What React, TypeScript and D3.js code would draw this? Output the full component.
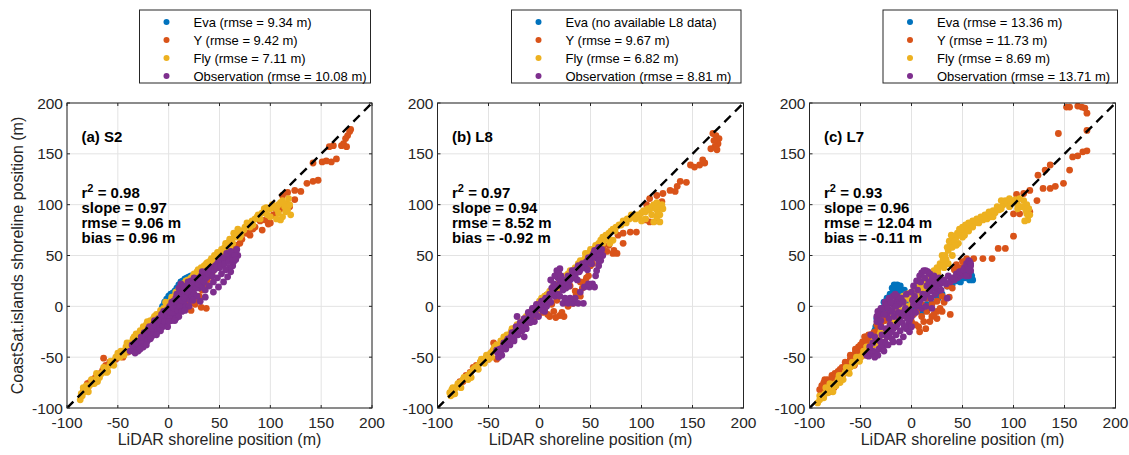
import React from "react";
import * as d3 from "d3";

// ---------- DATA ----------
const seriesNames = ["Eva", "Y", "Fly", "Observation"];
const seriesColors = ["#0072BD", "#D95319", "#EDB120", "#7E2F8E"];
const ticks = [-100, -50, 0, 50, 100, 150, 200];

const legendS2 = ["Eva (rmse = 9.34 m)", "Y (rmse = 9.42 m)", "Fly (rmse = 7.11 m)", "Observation (rmse = 10.08 m)"];
const legendL8 = ["Eva (no available L8 data)", "Y (rmse = 9.67 m)", "Fly (rmse = 6.82 m)", "Observation (rmse = 8.81 m)"];
const legendL7 = ["Eva (rmse = 13.36 m)", "Y (rmse = 11.73 m)", "Fly (rmse = 8.69 m)", "Observation (rmse = 13.71 m)"];

const titles = ["(a) S2", "(b) L8", "(c) L7"];
const statsS2 = ["0.98", "slope = 0.97", "rmse = 9.06 m", "bias = 0.96 m"];
const statsL8 = ["0.97", "slope = 0.94", "rmse = 8.52 m", "bias = -0.92 m"];
const statsL7 = ["0.93", "slope = 0.96", "rmse = 12.04 m", "bias = -0.11 m"];

type P = [number, number];

// Panel (a) S2
const evaS2: P[] = [[-6,0],[-4,4],[-2,7],[0,10],[1,6],[2,12],[4,13],[5,10],[6,15],[8,18],[10,21],[12,24],[14,25],[16,27],[18,28],[20,29],[22,30]];
const yS2: P[] = [[178,172],[176,168],[174,165],[179,174],[172,160],[175,157],[170,158],[162,158],[158,157],[165,145],[160,142],[155,143],[151,142],[142,141],[147,124],[142,123],[136,121],[130,113],[124,114],[117,112],[124,105],[119,98],[116,96],[112,109],[106,95],[100,82],[98,81],[92,75],[90,84],[85,78],[80,70],[75,72],[70,62],[64,58],[60,55],[55,50],[50,45],
  [45,40],[40,30],[35,22],[30,10],[25,6],[20,3],[15,0],[10,-2],[26,2],[32,-1],[37,-2],[22,-4],[5,-6],[0,-8],[-5,-12],[-10,-15],[-15,-18],[-20,-22],[-25,-30],[-30,-35],[-35,-40],[-40,-45],[-45,-50],[-50,-50],[-55,-55],[-60,-58],[-64,-51],[-65,-63],[-70,-68],[-75,-72],[-78,-75],[-82,-80],[-67,-66],
  [-84,-84],[-80,-76],[-76,-74],[-72,-70],[-62,-58],[-58,-55],[-52,-52],[-48,-47],[-42,-44],[-38,-40],[-32,-36],[-28,-33],[-22,-26],[-18,-20],[-12,-16],[-8,-14],[-2,-10],[3,-5],[8,-4],[14,-2],[18,2],[24,4],[28,8],[33,16],[38,26],[43,34],[48,40],[53,46],[58,52],[62,56],[67,60],[72,66],[78,72],[83,76],[95,85],[103,90],[110,96]];
const flyS2: P[] = [[-87,-92],[-85,-88],[-83,-84],[-80,-82],[-78,-78],[-75,-76],[-72,-72],[-70,-70],[-66,-66],[-62,-62],[-58,-58],[-55,-54],[-52,-50],[-48,-50],[-45,-44],[-42,-40],[-38,-36],[-35,-32],[-32,-27],[-28,-24],[-25,-20],[-22,-18],[-18,-14],[-15,-12],[-12,-8],[-8,-4],[-5,-2],[-2,2],[2,5],[5,8],[8,12],[12,18],[15,22],[18,24],[22,28],[25,32],[28,34],[32,38],[35,40],[38,43],[42,47],[45,50],[48,53],[52,56],[55,58],[58,62],[62,66],[65,70],[68,72],[72,74],[75,78],[78,80],[82,84],[85,86],[88,90],[92,92],[95,94],[100,96],[104,98],[108,100],[112,104],[116,101],[118,106],[115,93],[120,90],[110,85],[108,92],[60,58],[55,52],[70,68],[48,46],[40,40],[30,30],[20,20],[10,8],[0,-2],[-10,-10],[-20,-22],[-40,-44],[-50,-48],[-60,-64],[-70,-74],
  [-86,-86],[-84,-80],[-81,-78],[-79,-84],[-76,-72],[-73,-76],[-71,-66],[-68,-70],[-64,-60],[-61,-65],[-57,-54],[-54,-58],[-50,-46],[-47,-44],[-44,-48],[-41,-36],[-37,-40],[-34,-30],[-31,-33],[-27,-26],[-24,-22],[-21,-15],[-17,-18],[-14,-10],[-11,-12],[-7,-6],[-4,-5],[-1,0],[1,3],[4,6],[6,10],[9,15],[11,13],[13,20],[16,18],[19,26],[21,24],[24,30],[27,29],[29,36],[31,33],[34,37],[37,42],[40,44],[43,45],[46,48],[50,52],[53,54],[57,56],[60,60],[63,62],[66,68],[69,70],[71,70],[74,75],[77,82],[80,78],[83,80],[87,88],[90,86],[94,96],[97,90],[102,100],[106,96],[110,102],[114,98],[117,95],[119,100],[112,88],[106,86],[100,88],[96,97],[64,72],[60,66],[56,62],[68,76],[-3,4],[3,9],[7,14],[10,17],[14,22],[17,25]];
const obsS2: P[] = [[-38,-44],[-35,-42],[-32,-40],[-30,-38],[-28,-34],[-25,-35],[-22,-30],[-20,-28],[-18,-25],[-15,-24],[-12,-20],[-10,-18],[-8,-15],[-5,-12],[-3,-10],[-1,-8],[0,-5],[2,-8],[4,-3],[5,-10],[6,0],[8,2],[8,-6],[10,5],[12,8],[12,-2],[14,12],[15,3],[16,15],[18,18],[18,8],[20,22],[20,12],[22,25],[24,15],[25,28],[26,20],[28,24],[30,28],[30,18],[32,30],[34,26],[36,32],[38,35],[40,30],[42,38],[44,36],[46,40],[48,42],[50,38],[52,45],[54,44],[56,48],[58,46],[60,50],[62,48],[64,52],[66,54],[68,50],
  [31,5],[36,9],[44,14],[49,19],[54,24],[58,29],[61,34],[63,40],[64,44],[-15,-28],[-25,-40],[-5,-18],[3,-14],[5,5],[8,12],[10,18],[12,22],[14,20],[0,-2],[-5,-5],[-10,-12],[-15,-18],[-20,-22],
  [-36,-38],[-33,-36],[-30,-44],[-27,-30],[-24,-26],[-21,-34],[-19,-20],[-17,-30],[-14,-14],[-11,-25],[-9,-22],[-7,-8],[-6,-20],[-4,-15],[-2,-4],[-1,-20],[1,-12],[1,0],[3,-6],[3,4],[5,-2],[7,-12],[7,8],[9,-4],[9,10],[11,0],[11,15],[13,-5],[13,6],[15,18],[16,8],[17,0],[19,14],[19,24],[21,6],[21,18],[23,10],[23,22],[25,12],[27,18],[27,26],[29,22],[31,26],[33,20],[33,34],[35,24],[37,28],[39,32],[41,34],[43,30],[45,36],[47,38],[49,44],[51,40],[53,48],[55,42],[57,52],[59,44],[61,54],[63,46],[65,50],[67,56],[66,46],[60,38],[56,36],[52,32],[48,28],[44,24],[40,20],[36,16],[28,10],[24,6],[20,0],[16,-4],[10,-10],[6,-14],[0,-15],[-8,-24],[-12,-28],[-18,-32],[-22,-38],[-28,-42],[-33,-46]];

// Panel (b) L8
const evaL8: P[] = [];
const yL8: P[] = [[170,170],[173,168],[176,165],[175,160],[172,157],[168,155],[174,154],[171,163],[148,139],[152,137],[157,139],[162,141],[160,144],[144,122],[138,123],[135,118],[128,114],[133,113],[121,111],[115,109],[108,106],[120,103],[113,98],[108,97],[105,100],[104,85],[108,83],[115,84],[95,73],[89,73],[82,72],[77,70],[82,62],[72,52],[66,54],[73,55],[76,52],[60,55],[55,48],[50,40],[48,30],[45,25],[40,24],[30,20],[35,15],[40,10],[30,5],[33,3],[27,4],[24,-10],[20,-9],[14,-5],[10,-10],[17,6],[7,11],[12,2],[5,-3],[0,-6],[-5,-10],[-10,-15],[-15,-18],[-20,-25],[-25,-28],[-30,-35],[-35,-38],[-40,-42],[-45,-36],[-42,-52],[-48,-48],[-52,-50],[-58,-55],[-62,-58],[-68,-65],[-72,-68],[-75,-74],[-80,-78],[-85,-82],
  [-84,-86],[-78,-74],[-70,-70],[-65,-60],[-56,-54],[-50,-52],[-46,-44],[-38,-40],[-33,-36],[-28,-32],[-22,-26],[-18,-22],[-12,-16],[-8,-12],[-2,-8],[3,-6],[8,-8],[16,-11],[22,-6],[28,0],[36,12],[42,18],[46,28],[52,42],[56,50],[62,58],[68,60]];
const flyL8: P[] = [[-88,-85],[-86,-82],[-84,-84],[-82,-80],[-78,-75],[-75,-72],[-72,-70],[-68,-66],[-65,-62],[-60,-58],[-58,-55],[-55,-52],[-52,-48],[-48,-46],[-45,-42],[-42,-38],[-40,-40],[-38,-34],[-35,-30],[-32,-28],[-28,-25],[-25,-22],[-22,-18],[-18,-15],[-15,-12],[-10,-8],[-5,-2],[-2,2],[0,5],[2,8],[5,10],[8,12],[10,15],[15,18],[18,22],[20,25],[25,30],[28,32],[30,35],[35,38],[38,42],[40,45],[45,48],[48,52],[52,55],[55,60],[58,62],[60,65],[65,70],[68,72],[72,76],[75,78],[80,80],[85,82],[88,86],[92,88],[96,90],[100,92],[104,93],[108,95],[112,100],[115,102],[118,97],[121,96],[118,90],[112,83],[118,83],[115,88],[70,65],[69,62],[72,65],[62,68],[50,56],[45,52],[32,30],[20,18],[-12,-14],[-30,-32],[-50,-52],[-70,-72],
  [-87,-88],[-85,-80],[-83,-86],[-80,-76],[-77,-80],[-74,-70],[-70,-68],[-67,-70],[-63,-60],[-60,-62],[-57,-52],[-54,-56],[-50,-48],[-47,-50],[-44,-40],[-41,-44],[-37,-36],[-34,-32],[-30,-30],[-27,-22],[-24,-26],[-20,-18],[-17,-20],[-13,-10],[-9,-12],[-6,-4],[-3,-6],[1,2],[3,6],[6,4],[9,10],[12,14],[14,20],[17,16],[21,22],[24,26],[27,28],[31,32],[34,36],[37,38],[41,44],[44,46],[47,50],[50,52],[53,56],[56,58],[59,60],[62,62],[66,66],[70,74],[74,74],[78,80],[82,84],[86,86],[90,90],[94,86],[98,88],[102,94],[106,96],[110,98],[114,96],[116,92],[110,90],[120,100],[104,86],[100,84]];
const obsL8: P[] = [[-42,-43],[-40,-50],[-38,-45],[-36,-40],[-34,-38],[-32,-34],[-30,-36],[-28,-30],[-26,-28],[-24,-25],[-22,-10],[-20,-22],[-18,-20],[-16,-15],[-14,-18],[-12,-12],[-10,-8],[-8,-10],[-6,-3],[-4,-6],[-2,0],[0,-2],[2,5],[4,2],[6,8],[8,4],[10,12],[11,26],[12,18],[14,22],[15,10],[17,35],[20,37],[18,28],[20,25],[22,20],[25,22],[28,30],[30,26],[32,35],[35,30],[38,40],[40,36],[42,42],[45,40],[48,48],[50,45],[52,50],[54,55],[56,52],[58,58],[60,54],[62,50],[60,45],[58,40],[56,35],[23,3],[28,3],[33,3],[38,3],[43,3],[44,19],[49,19],[54,19],[-15,-30],[-25,-32],[-5,-15],[5,-5],
  [-41,-46],[-39,-42],[-37,-48],[-35,-36],[-33,-42],[-31,-32],[-29,-38],[-27,-26],[-25,-34],[-23,-20],[-21,-28],[-19,-16],[-17,-24],[-15,-12],[-13,-22],[-11,-6],[-9,-16],[-7,-2],[-5,-8],[-3,2],[-1,-10],[1,0],[3,-4],[5,6],[7,0],[9,8],[11,4],[13,14],[15,30],[16,20],[18,12],[19,32],[21,30],[23,16],[24,26],[26,18],[27,24],[29,20],[31,30],[33,28],[36,36],[37,26],[39,34],[41,40],[43,38],[46,44],[47,36],[49,46],[51,42],[53,52],[55,48],[57,56],[59,50],[61,56],[58,45],[55,30],[52,22],[48,22],[40,14],[35,8],[30,8],[25,8],[20,10]];

// Panel (c) L7
const evaL7: P[] = [[-35,-20],[-33,-16],[-31,-12],[-28,-5],[-25,0],[-22,6],[-20,10],[-18,14],[-16,18],[-14,21],[-12,16],[-10,14],[-8,12],[-6,8],[-4,5],[0,0],[5,-2],[8,-4],[12,0],[15,2],[20,3],[24,11],[28,15],[35,20],[45,25],[50,30],[53,36],[56,28],[58,32],[60,26],[40,22],[-30,-25],
  [-36,-24],[-34,-12],[-32,-8],[-29,-2],[-27,4],[-24,8],[-21,12],[-19,18],[-17,21],[-13,12],[-11,20],[-7,16],[2,-4],[10,-6],[18,0],[26,8],[30,12],[48,24],[52,28],[55,34],[57,26],[59,30]];
const yL7: P[] = [[152,196],[155,196],[163,197],[167,196],[170,195],[172,190],[144,170],[172,173],[158,147],[163,148],[168,152],[172,153],[155,134],[149,121],[141,118],[136,116],[129,116],[136,139],[131,134],[124,129],[116,114],[110,111],[103,110],[123,104],[116,93],[113,93],[106,91],[100,91],[100,69],[85,57],[92,57],[61,47],[70,47],[79,47],[54,47],[44,41],[50,44],[28,26],
  [35,20],[30,10],[37,9],[38,-8],[25,5],[20,2],[25,-5],[15,-5],[10,-10],[7,-20],[12,-15],[20,-10],[25,-12],[2,-8],[-5,-10],[-10,-8],[-15,-10],[-19,-10],[-25,-13],[-30,-18],[-35,-25],[-40,-28],[-45,-30],[-48,-35],[-52,-40],[-55,-45],[-58,-50],[-60,-52],[-65,-58],[-70,-62],[-74,-72],[-78,-72],[-82,-72],[-86,-75],[-90,-82],[-80,-80],[-62,-60],[-50,-50],[-40,-38],
  [-88,-78],[-85,-72],[-82,-76],[-78,-68],[-75,-66],[-72,-64],[-70,-70],[-68,-60],[-65,-55],[-62,-56],[-60,-48],[-58,-52],[-55,-42],[-52,-46],[-50,-38],[-48,-42],[-46,-30],[-44,-34],[-42,-28],[-40,-32],[-37,-26],[-34,-18],[-32,-22],[-28,-12],[-25,-8],[-22,-12],[-30,-10],[-26,-14],[-86,-85],[-80,-84],[-76,-80],[-66,-66],[-56,-58],[-46,-48],[-36,-38],
  [0,-15],[4,-18],[8,-25],[14,-22],[18,-15],[22,-8],[28,-2],[32,4],[40,18],[45,30],[42,36],[48,38],[52,44],[30,-5],[5,-5],[10,2],[15,8]];
const flyL7: P[] = [[-92,-95],[-90,-92],[-88,-88],[-85,-86],[-82,-85],[-78,-80],[-75,-76],[-72,-72],[-70,-75],[-68,-68],[-65,-65],[-62,-62],[-60,-60],[-58,-55],[-55,-55],[-52,-50],[-48,-48],[-45,-46],[-42,-42],[-40,-40],[-38,-36],[-35,-36],[-32,-30],[-28,-28],[-25,-26],[-22,-22],[-20,-12],[-18,-4],[-16,0],[-14,4],[-12,6],[-10,8],[-8,10],[-5,12],[-2,13],[2,16],[5,20],[8,22],[12,25],[15,28],[18,30],[22,35],[25,38],[28,42],[32,44],[34,46],[36,55],[38,62],[40,66],[44,68],[48,72],[52,75],[55,78],[58,80],[62,82],[66,82],[70,85],[74,86],[78,88],[82,92],[86,95],[90,100],[94,102],[98,104],[102,105],[106,106],[110,104],[113,100],[115,96],[113,91],[114,85],[111,84],[80,88],[76,93],[50,68],[40,58],[46,62],[30,50],[-20,-20],[-10,-5],[0,2],[10,12],[20,22],[-30,-25],[-50,-50],[5,8],[-5,0],
  [-90,-88],[-86,-90],[-84,-80],[-80,-76],[-77,-84],[-74,-78],[-71,-68],[-67,-72],[-64,-60],[-61,-66],[-57,-58],[-54,-50],[-51,-54],[-47,-44],[-44,-40],[-41,-46],[-37,-34],[-34,-38],[-31,-28],[-27,-24],[-24,-30],[-21,-18],[-19,-8],[-17,-14],[-15,-2],[-13,0],[-11,2],[-9,4],[-7,6],[-4,8],[-1,10],[1,12],[3,14],[6,16],[9,18],[11,20],[14,24],[17,26],[20,28],[23,32],[26,36],[29,40],[31,46],[33,50],[35,58],[37,64],[39,70],[42,64],[45,72],[47,76],[50,78],[53,80],[56,82],[60,84],[64,86],[68,88],[72,90],[76,92],[80,94],[84,98],[88,104],[92,104],[96,106],[100,103],[104,100],[108,98],[112,95],[116,90],[104,96],[96,98],[88,96],[60,78],[56,74],[52,70],[44,60],[40,50],[36,42],[32,38],[26,32],[18,24],[12,18],[6,10],[0,6]];
const obsL7: P[] = [[-42,-49],[-44,-48],[-40,-46],[-38,-44],[-35,-45],[-32,-42],[-30,-40],[-28,-42],[-28,-38],[-26,-35],[-24,-30],[-22,-28],[-20,-25],[-18,-22],[-16,-20],[-14,-18],[-12,-14],[-10,-10],[-8,-6],[-6,-2],[-5,-22],[-3,-18],[-2,-14],[0,-10],[-30,-20],[-32,-15],[-34,-10],[-33,-5],[-30,-2],[-26,0],[-24,-8],[-22,-12],[-20,-5],[-18,2],[-15,5],[-10,8],[-5,12],[0,14],[2,20],[5,25],[8,30],[10,33],[12,35],[14,35],[16,34],[18,32],[20,28],[22,30],[25,26],[28,22],[30,24],[34,22],[38,24],[42,26],[45,28],[48,30],[50,32],[52,38],[54,42],[56,45],[58,40],[58,35],[56,30],[2,2],[5,0],[8,5],[12,8],[15,12],[18,15],[22,18],[26,15],[35,8],[10,-2],[-8,-30],[-2,-25],[0,-20],[-12,-35],[-18,-35],[-40,-28],[-34,-15],
  [-41,-40],[-38,-36],[-36,-30],[-36,-50],[-33,-48],[-31,-34],[-29,-28],[-27,-44],[-25,-22],[-23,-38],[-21,-18],[-19,-32],[-17,-10],[-15,-28],[-13,-6],[-11,-24],[-9,-16],[-7,-20],[-4,-8],[-1,-4],[1,6],[3,10],[4,-6],[6,16],[7,2],[9,24],[11,12],[13,28],[15,20],[17,24],[19,8],[21,22],[23,12],[24,20],[27,28],[29,16],[32,26],[36,30],[40,28],[44,32],[47,34],[51,36],[53,30],[55,38],[57,44],[20,-2],[14,0],[-14,10],[-12,2],[-8,4],[-4,-12],
  [-31,-8],[-28,-2],[-26,4],[-24,2],[-22,8],[-20,4],[-18,10],[-16,12],[-30,-14],[-27,-8],[-23,-2],[-19,-4],[-15,0],[54,30],[56,36],[58,42]];

// ---------- LAYOUT ----------
const W = 1129, H = 455;
const FONT = "'Liberation Sans', Arial, Helvetica, sans-serif";
const plotTop = 103, plotBottom = 408;
const panelsLayout = [
  { left: 67, right: 372, legLeft: 139.5, legWidth: 231 },
  { left: 437.5, right: 743.5, legLeft: 511.5, legWidth: 229.5 },
  { left: 809.5, right: 1115.5, legLeft: 883, legWidth: 234.5 },
];
const panelData = [
  { series: [evaS2, yS2, flyS2, obsS2], legend: legendS2, stats: statsS2 },
  { series: [evaL8, yL8, flyL8, obsL8], legend: legendL8, stats: statsL8 },
  { series: [evaL7, yL7, flyL7, obsL7], legend: legendL7, stats: statsL7 },
];

function Panel({ idx }: { idx: number }) {
  const L = panelsLayout[idx];
  const D = panelData[idx];
  const x = d3.scaleLinear().domain([-100, 200]).range([L.left, L.right]);
  const y = d3.scaleLinear().domain([-100, 200]).range([plotBottom, plotTop]);
  const line = d3.line<number>().x((v) => x(v)).y((v) => y(v));
  const clipId = `clip${idx}`;
  const tx = L.left + 14.5;
  return (
    <g>
      <defs>
        <clipPath id={clipId}>
          <rect x={L.left} y={plotTop} width={L.right - L.left} height={plotBottom - plotTop} />
        </clipPath>
      </defs>
      <rect x={L.left} y={plotTop} width={L.right - L.left} height={plotBottom - plotTop} fill="#fff" />
      {ticks.map((t) => (
        <g key={"g" + t}>
          <line x1={x(t)} x2={x(t)} y1={plotTop} y2={plotBottom} stroke="#e3e3e3" strokeWidth={1} />
          <line x1={L.left} x2={L.right} y1={y(t)} y2={y(t)} stroke="#e3e3e3" strokeWidth={1} />
        </g>
      ))}
      <g clipPath={`url(#${clipId})`}>
        {D.series.map((pts, si) => (
          <g key={"s" + si} fill={seriesColors[si]}>
            {pts.map((p, pi) => (
              <circle key={pi} cx={x(p[0])} cy={y(p[1])} r={3.4} />
            ))}
          </g>
        ))}
        <path d={line([-100, 200]) || ""} stroke="#000" strokeWidth={2.4} strokeDasharray="9,6" fill="none" />
      </g>
      {ticks.map((t) => (
        <g key={"t" + t}>
          <line x1={x(t)} x2={x(t)} y1={plotBottom} y2={plotBottom - 3} stroke="#262626" />
          <line x1={x(t)} x2={x(t)} y1={plotTop} y2={plotTop + 3} stroke="#262626" />
          <line x1={L.left} x2={L.left + 3} y1={y(t)} y2={y(t)} stroke="#262626" />
          <line x1={L.right} x2={L.right - 3} y1={y(t)} y2={y(t)} stroke="#262626" />
          <text x={x(t)} y={plotBottom + 20} textAnchor="middle" fontSize={15.5} fill="#262626">{t}</text>
          <text x={L.left - 4} y={y(t) + 5.5} textAnchor="end" fontSize={15.5} fill="#262626">{t}</text>
        </g>
      ))}
      <rect x={L.left} y={plotTop} width={L.right - L.left} height={plotBottom - plotTop} fill="none" stroke="#262626" strokeWidth={1} />
      <text x={tx} y={142} fontSize={15} fontWeight="bold" fill="#000">{titles[idx]}</text>
      <text x={tx} y={198} fontSize={15} fontWeight="bold" fill="#000">
        r<tspan dy={-6} fontSize={11}>2</tspan><tspan dy={6}>{" = " + D.stats[0]}</tspan>
      </text>
      {D.stats.slice(1).map((s, i) => (
        <text key={s} x={tx} y={213.3 + i * 15} fontSize={15} fontWeight="bold" fill="#000">{s}</text>
      ))}
      <text x={(L.left + L.right) / 2} y={445} textAnchor="middle" fontSize={16} fill="#262626">LiDAR shoreline position (m)</text>
      <rect x={L.legLeft} y={10} width={L.legWidth} height={73} fill="#fff" stroke="#262626" strokeWidth={1} />
      {D.legend.map((s, i) => (
        <g key={"l" + i}>
          <circle cx={L.legLeft + 27} cy={22 + i * 18} r={3} fill={seriesColors[i]} />
          <text x={L.legLeft + 54} y={22 + i * 18 + 4.6} fontSize={13} fill="#000">{s}</text>
        </g>
      ))}
    </g>
  );
}

export default function App() {
  return (
    <svg width={W} height={H} style={{ position: "absolute", left: 0, top: 0, background: "#fff" }} fontFamily={FONT}>
      <rect x={0} y={0} width={W} height={H} fill="#fff" />
      {[0, 1, 2].map((i) => <Panel key={i} idx={i} />)}
      <text transform={`translate(23, ${(plotTop + plotBottom) / 2}) rotate(-90)`} textAnchor="middle" fontSize={16} fill="#262626">
        CoastSat.islands shoreline position (m)
      </text>
    </svg>
  );
}
